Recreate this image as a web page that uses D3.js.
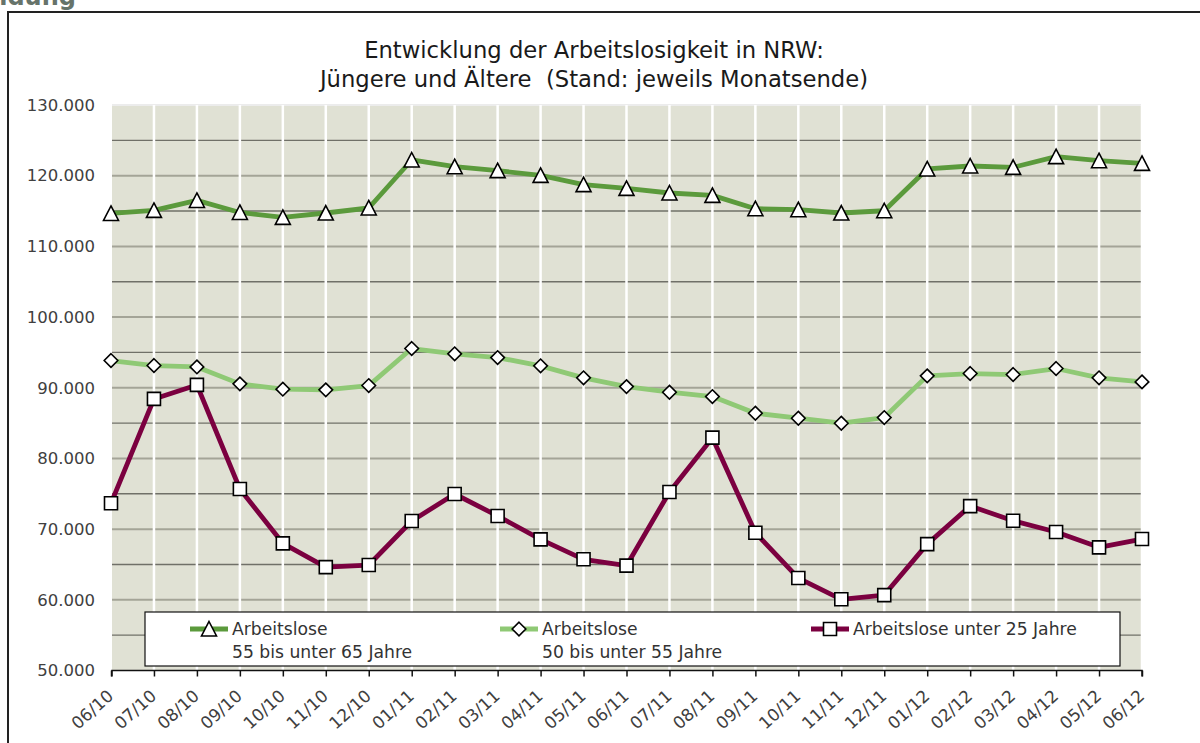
<!DOCTYPE html>
<html>
<head>
<meta charset="utf-8">
<script src="https://cdn.jsdelivr.net/npm/d3@7"></script>
<style>
  body { margin: 0; background: #fff; }
  #graf { width: 1200px; height: 743px; overflow: hidden; }
  text { font-family: "DejaVu Sans", sans-serif; white-space: pre; }
</style>
</head>
<body>
<div id="graf"></div>
<script>
// I. Datos

meses = ['06/10', '07/10', '08/10', '09/10', '10/10', '11/10', '12/10',
        '01/11', '02/11', '03/11', '04/11', '05/11', '06/11', '07/11', '08/11',
        '09/11', '10/11', '11/11', '12/11', '01/12', '02/12', '03/12', '04/12',
        '05/12', '06/12']

// Arbeitslose 55 bis unter 65 Jahre
aeltere = [114660, 115090, 116500, 114800, 114100, 114720, 115430,
        122220, 121270, 120710, 120040, 118730, 118200, 117550, 117210,
        115330, 115190, 114720, 115040, 120950, 121370, 121180, 122690,
        122120, 121740]

// Arbeitslose 50 bis unter 55 Jahre
mittlere = [93850, 93140, 92950, 90550, 89800, 89700, 90310,
        95550, 94800, 94270, 93100, 91400, 90160, 89370, 88750,
        86400, 85690, 84980, 85780, 91680, 92010, 91870, 92720,
        91400, 90830]

// Arbeitslose unter 25 Jahre
juengere = [73650, 88420, 90400, 75680, 67990, 64630, 64920,
        71150, 74970, 71860, 68550, 65730, 64830, 75250, 82940,
        69490, 63080, 60070, 60670, 67880, 73260, 71190, 69600,
        67420, 68600]

yTicks = [50000, 60000, 70000, 80000, 90000, 100000, 110000, 120000, 130000]

titulo = ['Entwicklung der Arbeitslosigkeit in NRW:',
        'Jüngere und Ältere  (Stand: jeweils Monatsende)']

// II. Configuracion

graf = d3.select('#graf')
svg = graf.append('svg')
        .attr('width', 1200)
        .attr('height', 743)

margins = { top: 105, left: 112, right: 58, bottom: 73 }
ancho_total = 1200
alto_total = 743

x = d3.scalePoint()
        .domain(meses)
        .range([margins.left - 1, ancho_total - margins.right])
y = d3.scaleLinear()
        .domain([50000, 130000])
        .range([alto_total - margins.bottom + 0.5, margins.top])

series = [
        { nombre: ['Arbeitslose', '55 bis unter 65 Jahre'], datos: aeltere, color: '#5b9a3c', marca: 'tri', lx: 190 },
        { nombre: ['Arbeitslose', '50 bis unter 55 Jahre'], datos: mittlere, color: '#8fc975', marca: 'dia', lx: 500 },
        { nombre: ['Arbeitslose unter 25 Jahre'], datos: juengere, color: '#7b0040', marca: 'sq', lx: 811 }
]

function marcaPath(tipo) {
        if (tipo == 'tri') return 'M0,-7.5L7.5,7L-7.5,7Z'
        if (tipo == 'dia') return 'M0,-6.8L6.8,0L0,6.8L-6.8,0Z'
        return 'M-6.5,-6.5L6.5,-6.5L6.5,6.5L-6.5,6.5Z'
}

// III. Marco y titulo

svg.append('text')
        .attr('x', -62)
        .attr('y', 5)
        .style('font-size', '24px')
        .style('font-weight', 'bold')
        .style('fill', '#66736a')
        .text('Abbildung')

svg.append('rect')
        .attr('x', 8).attr('y', 12)
        .attr('width', 1250).attr('height', 800)
        .attr('fill', 'none')
        .attr('stroke', '#222')
        .attr('stroke-width', 2)

svg.selectAll('.titulo')
        .data(titulo)
        .join('text')
        .attr('class', 'titulo')
        .attr('x', 594)
        .attr('y', (d, i) => 58 + i * 29)
        .attr('text-anchor', 'middle')
        .style('font-size', '22.7px')
        .style('fill', '#1a1a1a')
        .text(d => d)

// IV. Area del grafico

g = svg.append('g')

g.append('rect')
        .attr('x', margins.left)
        .attr('y', y(130000))
        .attr('width', x(meses[meses.length - 1]) - margins.left - 1)
        .attr('height', y(50000) - y(130000))
        .attr('fill', '#e0e1d4')

// lineas horizontales cada 5.000
g.selectAll('.menor')
        .data(d3.range(55000, 130000, 10000))
        .join('line')
        .attr('x1', margins.left).attr('x2', x(meses[meses.length - 1]) - 1)
        .attr('y1', d => y(d)).attr('y2', d => y(d))
        .attr('stroke', '#707068')
        .attr('stroke-width', 1.4)

g.selectAll('.mayor')
        .data(yTicks.slice(1, -1))
        .join('line')
        .attr('x1', margins.left).attr('x2', x(meses[meses.length - 1]) - 1)
        .attr('y1', d => y(d)).attr('y2', d => y(d))
        .attr('stroke', '#a4a497')
        .attr('stroke-width', 2)

g.append('line')
        .attr('x1', margins.left).attr('x2', x(meses[meses.length - 1]) - 1)
        .attr('y1', y(130000)).attr('y2', y(130000))
        .attr('stroke', '#ececec')
        .attr('stroke-width', 2)

// lineas verticales blancas
g.selectAll('.vert')
        .data(meses.slice(1))
        .join('line')
        .attr('x1', d => x(d)).attr('x2', d => x(d))
        .attr('y1', y(130000)).attr('y2', y(50000))
        .attr('stroke', '#fff')
        .attr('stroke-width', 2.5)

// Eje Y
ejeY = g.append('g')
        .attr('transform', `translate(${margins.left}, 0)`)
        .call(d3.axisLeft(y)
                .tickValues(yTicks)
                .tickSize(0)
                .tickPadding(17)
                .tickFormat(d => d3.format(',')(d).replace(',', '.')))
ejeY.select('.domain').remove()
ejeY.selectAll('text')
        .style('font-size', '16.5px')
        .style('fill', '#404040')
        .style('font-family', '"DejaVu Sans", sans-serif')

// Eje X
ejeX = g.append('g')
        .attr('transform', `translate(0, ${y(50000)})`)
        .call(d3.axisBottom(x).tickSize(6).tickSizeOuter(0))
ejeX.select('.domain')
        .attr('stroke', '#111')
        .attr('stroke-width', 1.5)
        .attr('d', `M${x(meses[0]) + 1},6V0H${x(meses[meses.length - 1])}V6`)
ejeX.selectAll('.tick line').attr('stroke', '#111').attr('stroke-width', 1.5)
ejeX.selectAll('text')
        .style('font-size', '17px')
        .style('fill', '#404040')
        .style('font-family', '"DejaVu Sans", sans-serif')
        .attr('text-anchor', 'end')
        .attr('dy', 0)
        .attr('y', 0)
        .attr('x', 0)
        .attr('transform', 'translate(3, 27) rotate(-42)')

// V. Lineas y marcas

linea = d3.line()
        .x((d, i) => x(meses[i]))
        .y(d => y(d))

series.forEach(s => {
        g.append('path')
                .datum(s.datos)
                .attr('d', linea)
                .attr('fill', 'none')
                .attr('stroke', s.color)
                .attr('stroke-width', 4.8)
                .attr('stroke-linejoin', 'round')
})

series.forEach(s => {
        g.selectAll(null)
                .data(s.datos)
                .join('path')
                .attr('transform', (d, i) => `translate(${x(meses[i])}, ${y(d)})`)
                .attr('d', marcaPath(s.marca))
                .attr('fill', '#fff')
                .attr('stroke', '#000')
                .attr('stroke-width', 1.6)
})

// VI. Leyenda

leyenda = svg.append('g')
leyenda.append('rect')
        .attr('x', 145).attr('y', 612)
        .attr('width', 975).attr('height', 54)
        .attr('fill', '#fff')
        .attr('stroke', '#111')
        .attr('stroke-width', 1.2)

series.forEach(s => {
        leyenda.append('line')
                .attr('x1', s.lx).attr('x2', s.lx + 38)
                .attr('y1', 629).attr('y2', 629)
                .attr('stroke', s.color)
                .attr('stroke-width', 4.8)
        leyenda.append('path')
                .attr('transform', `translate(${s.lx + 19}, 629)`)
                .attr('d', marcaPath(s.marca))
                .attr('fill', '#fff')
                .attr('stroke', '#000')
                .attr('stroke-width', 1.6)
        leyenda.selectAll(null)
                .data(s.nombre)
                .join('text')
                .attr('x', s.lx + 42)
                .attr('y', (d, i) => 635 + i * 23)
                .style('font-size', '17.2px')
                .style('fill', '#333')
                .text(d => d)
})
</script>
</body>
</html>
